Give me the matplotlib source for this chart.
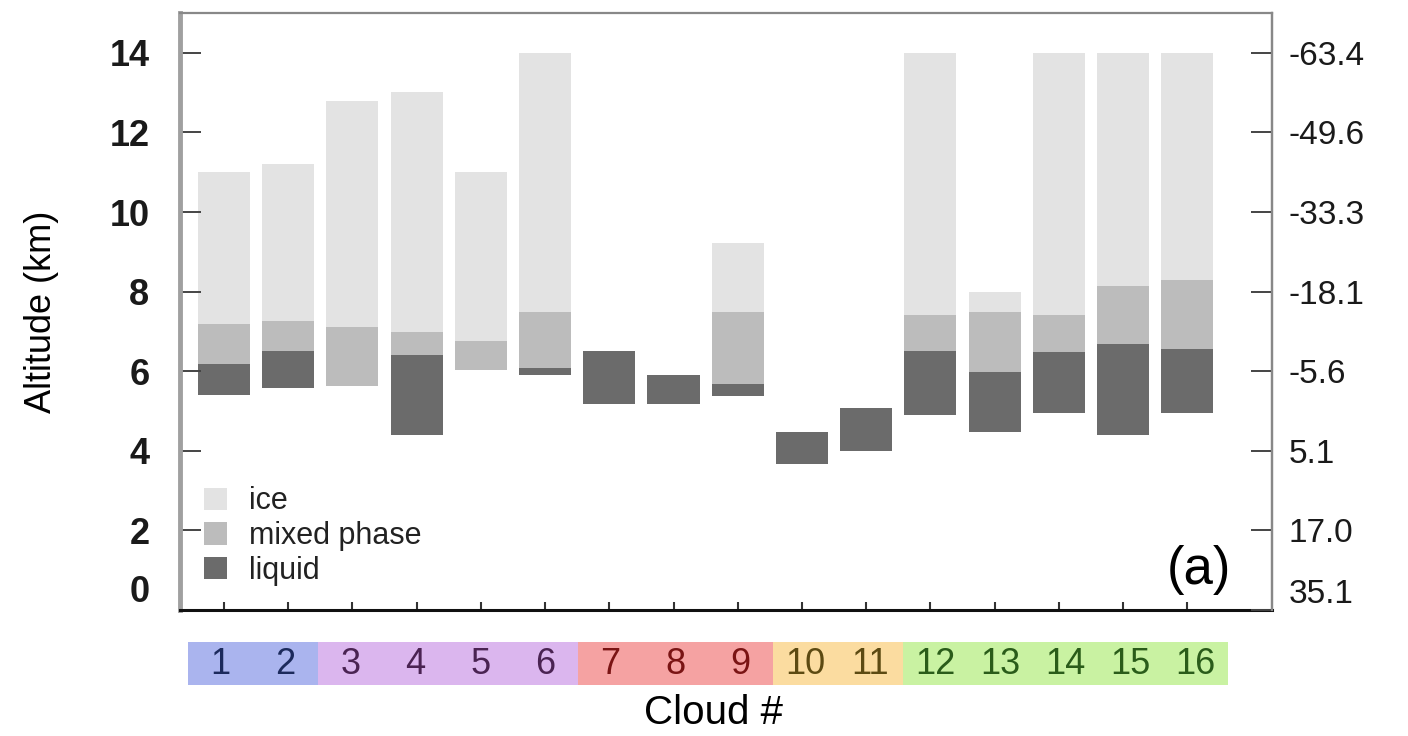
import numpy as np
import matplotlib
matplotlib.use('Agg')
import matplotlib.pyplot as plt

plt.rcParams['font.family'] = ['Liberation Sans', 'DejaVu Sans']

nan = np.nan
clouds = np.arange(1, 17)
cloud_labels = [str(c) for c in clouds]

# altitude (km) of the phase layers
liquid_base = [5.4, 5.58, nan, 4.4, nan, 5.9, 5.18, 5.18, 5.37, 3.68, 4.0, 4.9, 4.47, 4.96, 4.39, 4.96]
liquid_top = [6.18, 6.5, nan, 6.41, nan, 6.08, 6.5, 5.91, 5.68, 4.48, 5.07, 6.5, 5.99, 6.49, 6.68, 6.55]
mixed_base = [6.18, 6.5, 5.62, 6.41, 6.04, 6.08, nan, nan, 5.68, nan, nan, 6.5, 5.99, 6.49, 6.68, 6.55]
mixed_top = [7.19, 7.27, 7.1, 6.98, 6.77, 7.5, nan, nan, 7.5, nan, nan, 7.42, 7.5, 7.42, 8.13, 8.3]
ice_top = [11.0, 11.21, 12.8, 13.02, 11.0, 14.0, nan, nan, 9.21, nan, nan, 14.0, 7.99, 14.0, 14.0, 14.0]

alt_ticks = [0, 2, 4, 6, 8, 10, 12, 14]
temp_labels = ['35.1', '17.0', '5.1', '-5.6', '-18.1', '-33.3', '-49.6', '-63.4']

# colour groups along the cloud axis
groups = [1, 1, 2, 2, 2, 2, 3, 3, 3, 4, 4, 5, 5, 5, 5, 5]
group_bg = {1: '#aab4ee', 2: '#dbb6ee', 3: '#f5a2a2', 4: '#fbdca0', 5: '#c9f2a2'}
group_fg = {1: '#1c2a5c', 2: '#4a2352', 3: '#7a1414', 4: '#5c4a12', 5: '#2a5c1a'}

c_ice, c_mix, c_liq = '#e3e3e3', '#bcbcbc', '#6b6b6b'

fig = plt.figure(figsize=(14.08, 7.36), dpi=100)
ax = fig.add_axes([180/1408, 126/736, (1272-180)/1408, (610-13)/736])

la = np.array(liquid_base); lt = np.array(liquid_top)
mb = np.array(mixed_base); mt = np.array(mixed_top); it = np.array(ice_top)
w = 0.81
ax.bar(clouds, it - mt, bottom=mt, width=w, color=c_ice, label='ice')
ax.bar(clouds, mt - mb, bottom=mb, width=w, color=c_mix, label='mixed phase')
ax.bar(clouds, lt - la, bottom=la, width=w, color=c_liq, label='liquid')

ax.set_xlim(0.315, 17.32)
ax.set_ylim(0, 15.0)
ax.set_yticks(alt_ticks)
ax.set_yticklabels([str(t) for t in alt_ticks], fontsize=26, fontweight='bold', color='#1a1a1a')
ax.get_yticklabels()[0].set_verticalalignment('bottom')
ax.set_xticks(clouds)
ax.set_xticklabels([])
ax.tick_params(axis='y', direction='in', length=15, width=1.4, color='#444444', pad=22)
ax.tick_params(axis='x', direction='in', length=6, width=1.5, color='#333333')
ax.spines['top'].set_color('#888888')
ax.spines['top'].set_linewidth(1.6)
ax.spines['left'].set_color('#a0a0a0')
ax.spines['left'].set_linewidth(3.5)
ax.spines['bottom'].set_color('#111111')
ax.spines['bottom'].set_linewidth(2.2)
ax.spines['right'].set_color('#888888')
ax.spines['right'].set_linewidth(1.6)

ax2 = ax.twinx()
ax2.set_ylim(ax.get_ylim())
ax2.set_yticks(alt_ticks)
ax2.set_yticklabels(temp_labels, fontsize=24, color='#1a1a1a')
ax2.get_yticklabels()[0].set_verticalalignment('bottom')
ax2.tick_params(axis='y', direction='in', length=15, width=1.4, color='#444444', pad=12)
for s in ['top', 'left', 'bottom']:
    ax2.spines[s].set_visible(False)
ax2.spines['right'].set_color('#888888')
ax2.spines['right'].set_linewidth(1.6)

leg = ax.legend(loc='lower left', bbox_to_anchor=(0.0, 0.0), frameon=False, fontsize=22,
                handlelength=0.75, handleheight=0.75, handletextpad=0.7, labelspacing=0.15,
                borderaxespad=0.4)
for t in leg.get_texts():
    t.set_color('#222222')

ax.text(0.963, 0.025, '(a)', transform=ax.transAxes, ha='right', va='bottom', fontsize=38)

fig.text(42/1408, 1 - 312/736, 'Altitude (km)', rotation=90, ha='center', va='center',
         fontsize=26)

# coloured cloud-number strip
band = fig.add_axes([188/1408, 51/736, (1228-188)/1408, 43/736])
band.bar(clouds, np.ones(16), width=1.0, bottom=0, color=[group_bg[g] for g in groups])
for c, lab, g in zip(clouds, cloud_labels, groups):
    band.text(c, 0.48, lab, ha='center', va='center', fontsize=26, color=group_fg[g])
band.set_xlim(0.5, 16.5)
band.set_ylim(0, 1)
band.axis('off')

fig.text(714/1408, 1 - 713/736, 'Cloud #', ha='center', va='center', fontsize=29)

fig.savefig('out.png', dpi=100)
